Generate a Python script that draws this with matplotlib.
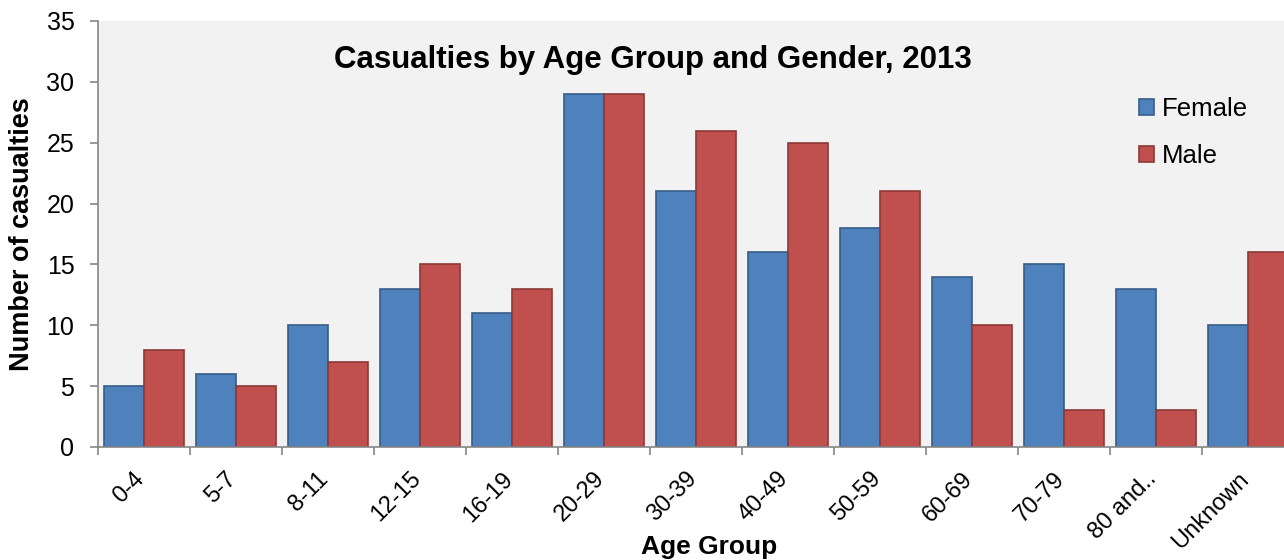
import numpy as np
import matplotlib.pyplot as plt
import matplotlib.transforms as mtransforms

# Casualties by age group and gender, 2013
age_groups = ['0-4', '5-7', '8-11', '12-15', '16-19', '20-29', '30-39',
              '40-49', '50-59', '60-69', '70-79', '80 and..', 'Unknown']
female = [5, 6, 10, 13, 11, 29, 21, 16, 18, 14, 15, 13, 10]
male = [8, 5, 7, 15, 13, 29, 26, 25, 21, 10, 3, 3, 16]

plt.rcParams['font.family'] = ['Liberation Sans', 'DejaVu Sans']

W, H = 1284, 560
fig = plt.figure(figsize=(W / 100, H / 100), dpi=100)
# plot area runs a little past the right edge of the figure
ax = fig.add_axes([98 / W, (H - 447) / H, 1196 / W, 426 / H])
ax.set_facecolor('#f2f2f2')

x = np.arange(len(age_groups))
bw = 40 / 92
ax.bar(x - bw / 2, female, bw, color='#4f81bd', edgecolor='#385d8a',
       linewidth=1.2, label='Female')
ax.bar(x + bw / 2, male, bw, color='#c0504d', edgecolor='#8c3836',
       linewidth=1.2, label='Male')

ax.set_xlim(-0.5, len(age_groups) - 0.5)
ax.set_ylim(0, 35)
ax.set_yticks(range(0, 36, 5))

ax.set_xticks(x)
ax.set_xticklabels(age_groups, rotation=45, ha='right')
ax.set_xticks(np.arange(-0.5, len(age_groups)), minor=True)
ax.tick_params(axis='x', which='major', length=0, pad=15, labelsize=17)
ax.tick_params(axis='x', which='minor', length=6, width=1.2, color='#868686')
ax.tick_params(axis='y', length=6, width=1.2, color='#868686', pad=11,
               labelsize=18)

# nudge the slanted labels a few pixels to the right
shift = mtransforms.ScaledTranslation(5 / 100, 0, fig.dpi_scale_trans)
for lbl in ax.get_xticklabels():
    lbl.set_transform(lbl.get_transform() + shift)

for s in ['top', 'right']:
    ax.spines[s].set_visible(False)
for s in ['left', 'bottom']:
    ax.spines[s].set_color('#868686')
    ax.spines[s].set_linewidth(1.2)

fig.text(653 / W, 1 - 60 / H, 'Casualties by Age Group and Gender, 2013',
         ha='center', va='center', fontsize=22.5, fontweight='bold')
fig.text(22 / W, 1 - 234 / H, 'Number of casualties', rotation=90,
         ha='center', va='center', fontsize=19.5, fontweight='bold')
fig.text(709 / W, 1 - 547 / H, 'Age Group', ha='center', va='center',
         fontsize=19, fontweight='bold')

ax.legend(loc='upper left', bbox_to_anchor=(1139 / W, 1 - 97 / H),
          bbox_transform=fig.transFigure, frameon=False, fontsize=18.5,
          handlelength=0.6, handleheight=0.6, handletextpad=0.3,
          labelspacing=0.9, borderpad=0, borderaxespad=0)

fig.savefig('out.png', dpi=100)
